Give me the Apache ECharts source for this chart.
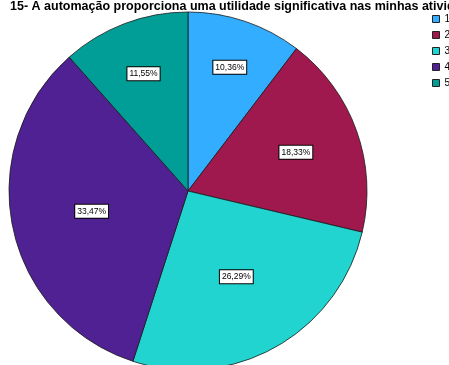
<!DOCTYPE html>
<html>
<head>
<meta charset="utf-8">
<script src="https://cdn.jsdelivr.net/npm/echarts@6/dist/echarts.min.js"></script>
<style>
  html, body { margin: 0; padding: 0; background: #fff; }
  #chart { width: 449px; height: 365px; }
</style>
</head>
<body>
<div id="chart"></div>
<script>
// Answer categories (Likert scale 1-5) and their share of responses, in percent
const categories = ['1', '2', '3', '4', '5'];
const percentages = [10.36, 18.33, 26.29, 33.47, 11.55];
const sliceColors = ['#33adff', '#a0194e', '#21d4d0', '#4f2193', '#009e96'];
const titleText = '15- A automação proporciona uma utilidade significativa nas minhas atividades';

// Pie geometry and how far out each value box sits (fraction of radius)
const CENTER = [188, 191];
const RADIUS = 179;
const labelReach = [0.73, 0.64, 0.55, 0.55, 0.70];

const total = percentages.reduce((a, b) => a + b, 0);
function midAngle(i) {
  let before = 0;
  for (let k = 0; k < i; k++) before += percentages[k];
  return ((before + percentages[i] / 2) / total) * Math.PI * 2;
}

const chart = echarts.init(document.getElementById('chart'));
chart.setOption({
  animation: false,
  title: {
    text: titleText,
    left: 5,
    top: -5,
    textStyle: { fontFamily: 'Liberation Sans', fontSize: 12.5, fontWeight: 'bold', color: '#000' }
  },
  legend: {
    orient: 'vertical',
    left: 432,
    top: 14,
    icon: 'rect',
    itemWidth: 7,
    itemHeight: 7,
    itemGap: 6,
    padding: 0,
    itemStyle: { borderColor: '#222', borderWidth: 1 },
    textStyle: { fontFamily: 'Liberation Sans', fontSize: 10, color: '#000', padding: [0, 0, 0, 0] },
    data: categories
  },
  series: [{
    type: 'pie',
    center: CENTER,
    radius: RADIUS,
    startAngle: 90,
    clockwise: true,
    silent: true,
    itemStyle: { borderColor: '#1a1a1a', borderWidth: 0.8 },
    label: {
      show: true,
      position: 'inside',
      formatter: p => p.value.toFixed(2).replace('.', ',') + '%',
      fontFamily: 'Liberation Sans',
      fontSize: 8.5,
      color: '#000',
      backgroundColor: '#fff',
      borderColor: '#000',
      borderWidth: 1,
      padding: [2, 2, 2, 2],
      align: 'center',
      verticalAlign: 'middle'
    },
    labelLine: { show: false },
    labelLayout: params => {
      const i = params.dataIndex;
      const a = midAngle(i);
      const r = RADIUS * labelReach[i];
      return { x: CENTER[0] + r * Math.sin(a), y: CENTER[1] - r * Math.cos(a) };
    },
    data: categories.map((name, i) => ({
      name,
      value: percentages[i],
      itemStyle: { color: sliceColors[i] }
    }))
  }]
});
</script>
</body>
</html>
